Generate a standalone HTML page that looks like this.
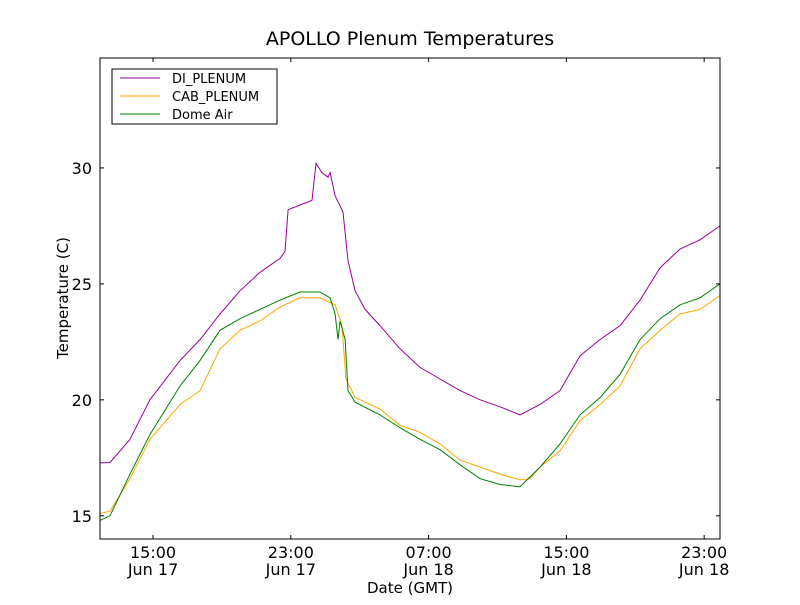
<!DOCTYPE html>
<html><head><meta charset="utf-8"><style>
body{margin:0;background:#fff;}
svg{font-family:"DejaVu Sans","Liberation Sans",sans-serif;}
</style></head><body>
<svg id="c" width="800" height="600"></svg>
<script>
const hoursDI=[11.92,12.5,13.66,14.82,16.57,17.73,18.89,20.05,21.21,22.37,22.66,22.84,23.53,24.23,24.46,24.81,25.16,25.28,25.57,26.03,26.32,26.73,27.31,28.18,29.34,30.5,31.66,32.83,33.99,35.15,36.31,37.47,38.63,39.79,40.96,42.12,43.28,44.44,45.6,46.76,47.92];
const tempDI=[17.28,17.3,18.3,20.0,21.7,22.6,23.7,24.7,25.5,26.1,26.4,28.2,28.4,28.6,30.2,29.8,29.6,29.8,28.8,28.1,26.0,24.7,23.9,23.2,22.2,21.4,20.9,20.4,20.0,19.7,19.35,19.8,20.4,21.9,22.6,23.2,24.3,25.7,26.5,26.9,27.5];
const hoursCAB=[11.92,12.5,13.66,14.82,16.57,17.73,18.89,20.05,21.21,22.37,23.53,24.69,25.57,25.97,26.2,26.73,28.18,29.34,30.5,31.66,32.83,33.99,35.15,36.31,36.89,37.47,38.63,39.79,40.96,42.12,43.28,44.44,45.6,46.76,47.92];
const tempCAB=[15.1,15.2,16.6,18.3,19.8,20.4,22.2,23.0,23.4,24.0,24.4,24.4,24.1,23.2,20.9,20.1,19.6,18.9,18.6,18.1,17.4,17.1,16.8,16.55,16.6,17.1,17.8,19.1,19.8,20.6,22.2,23.0,23.7,23.9,24.5];
const hoursDome=[11.92,12.5,13.66,14.82,16.57,17.73,18.89,20.05,21.21,22.37,23.53,24.69,25.28,25.57,25.74,25.86,26.15,26.32,26.73,28.18,29.34,30.5,31.66,32.83,33.99,35.15,36.31,37.47,38.63,39.79,40.96,42.12,43.28,44.44,45.6,46.76,47.92];
const tempDome=[14.8,15.0,16.8,18.5,20.6,21.7,23.0,23.5,23.9,24.3,24.65,24.65,24.4,23.7,22.6,23.4,22.6,20.4,19.9,19.35,18.8,18.3,17.85,17.2,16.6,16.35,16.25,17.1,18.1,19.35,20.1,21.1,22.6,23.5,24.1,24.4,25.0];
const yTicks=[15,20,25,30];
const xTicks=[15,23,31,39,47];
const xTickTimes=["15:00","23:00","07:00","15:00","23:00"];
const xTickDates=["Jun 17","Jun 17","Jun 18","Jun 18","Jun 18"];

const NS="http://www.w3.org/2000/svg";
const svg=document.getElementById('c');
const L=100,R=720,T=58,B=539,X0=11.92,X1=47.92,Y0=14,Y1=34.74;
const sx=h=>L+(h-X0)/(X1-X0)*(R-L);
const sy=v=>B-(v-Y0)/(Y1-Y0)*(B-T);
function el(tag,attrs,parent){const e=document.createElementNS(NS,tag);for(const k in attrs)e.setAttribute(k,attrs[k]);(parent||svg).appendChild(e);return e;}
function txt(x,y,s,size,anchor,parent){const t=el('text',{x:x,y:y,'font-size':size,'text-anchor':anchor||'middle',fill:'#000'},parent);t.textContent=s;return t;}

const title=txt(410,45,'APOLLO Plenum Temperatures',19);



function series(hs,vs,color,name){
  const p=el('polyline',{points:hs.map((h,i)=>sx(h).toFixed(1)+','+sy(vs[i]).toFixed(1)).join(' '),fill:'none',stroke:color,'stroke-width':1});
  
  
}
series(hoursDI,tempDI,'#990099','di-plenum-line');
series(hoursCAB,tempCAB,'#ffa500','cab-plenum-line');
series(hoursDome,tempDome,'#008000','dome-air-line');

const frame=el('rect',{x:L,y:T,width:R-L,height:B-T,fill:'none',stroke:'#000','stroke-width':1});



yTicks.forEach(v=>{
  const y=sy(v);
  el('line',{x1:L,y1:y,x2:L+4,y2:y,stroke:'#000'});
  el('line',{x1:R,y1:y,x2:R-4,y2:y,stroke:'#000'});
  const t=txt(L-8,y+6,String(v),16,'end');
  
  
});
xTicks.forEach((h,i)=>{
  const x=sx(h);
  el('line',{x1:x,y1:B,x2:x,y2:B-4,stroke:'#000'});
  el('line',{x1:x,y1:T,x2:x,y2:T+4,stroke:'#000'});
  const t=txt(x,558,xTickTimes[i],16);
  
  
  const d=txt(x,575,xTickDates[i],16);
  
  
});
const xl=txt(410,593,'Date (GMT)',15);


const yl=txt(0,0,'Temperature (C)',15);
yl.setAttribute('transform','translate(68,298) rotate(-90)');



const lg=el('g',{});


el('rect',{x:112,y:69,width:165,height:55,fill:'#fff',stroke:'#000'},lg);
[['DI_PLENUM','#990099',78],['CAB_PLENUM','#ffa500',96],['Dome Air','#008000',114]].forEach(e=>{
  el('line',{x1:120,y1:e[2],x2:160,y2:e[2],stroke:e[1]},lg);
  const t=txt(172,e[2]+5,e[0],13,'start',lg);
  
  
});
</script>
</body></html>
